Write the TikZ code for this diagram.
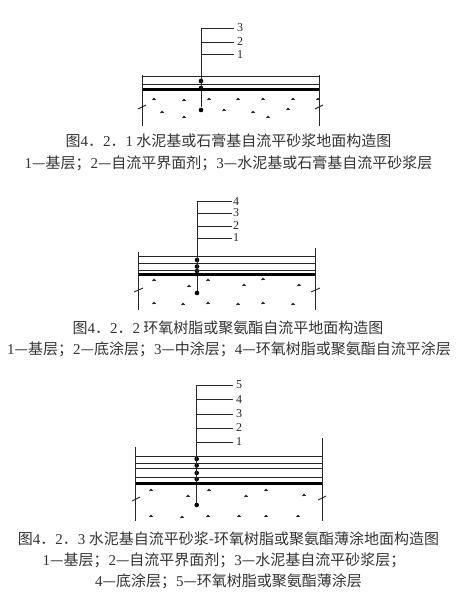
\documentclass[tikz,border=0pt]{standalone}
\usepackage{fontspec}
\setmainfont{Liberation Serif}
\newfontfamily\cjk{Noto Sans CJK SC}
\newcommand{\nm}[1]{{\rmfamily #1}}
\tikzset{
  layerline/.style={line width=1pt,black!85},
  thicklayer/.style={line width=3pt,black},
  sideline/.style={line width=0.9pt,black!85},
  leaderline/.style={line width=0.9pt,black!85},
  numlabel/.style={anchor=west,inner sep=0pt,font=\rmfamily\fontsize{12}{13}\selectfont,text=black!85},
  captext/.style={inner sep=0pt,font=\cjk\fontsize{15}{17}\selectfont,text=black!80},
  dotmark/.style={circle,fill=black,inner sep=0pt,minimum size=4.6pt},
  grain/.style={fill=black!85,draw=none}
}
\newcommand{\grains}[1]{\foreach \gx/\gy in {#1}{\fill[grain] (\gx-2.2,\gy+1.1) -- (\gx+2.2,\gy+0.8) -- (\gx,\gy-1.4) -- cycle;}}
\begin{document}
\begin{tikzpicture}[x=1pt,y=-1pt]
\useasboundingbox (0,0) rectangle (460,596);
\fill[white] (0,0) rectangle (460,596);

% --- diagram 1
\coordinate (a0) at (201,28);
\node[dotmark] (ad1) at (201,81) {};
\node[dotmark] (ad2) at (201,88) {};
\node[dotmark] (ad3) at (201,110) {};
\draw[leaderline] (a0) -- (ad3);
\foreach \n/\y in {3/28,2/42,1/54.5}{
  \node[numlabel] (a\n) at (237,\y) {\n};
  \draw[leaderline,shorten >=3pt] (201,\y) -- (a\n.west);
}
\draw[layerline] (142,76.7) -- (319,76.7);
\draw[layerline] (142,85) -- (319,85);
\draw[thicklayer] (142,90) -- (319,90);
\draw[sideline] (142,75) -- (142,126);
\draw[sideline] (319,75) -- (319,126);
\draw[sideline] (138,109) -- (146,105);
\draw[sideline] (315,109) -- (323,105);
\grains{154/99,184/100,209/99,238/99,263/99,293/99,318/99,162/112,224/110,253/112,288/109,184/117,268/117}

% --- diagram 2
\coordinate (b0) at (197,201.7);
\node[dotmark] (bd1) at (197,260) {};
\node[dotmark] (bd2) at (197,266.5) {};
\node[dotmark] (bd3) at (197,271) {};
\node[dotmark] (bd4) at (197,293) {};
\draw[leaderline] (b0) -- (bd4);
\foreach \n/\y in {4/201.7,3/213,2/226,1/238}{
  \node[numlabel] (b\n) at (233,\y) {\n};
  \draw[leaderline,shorten >=1pt] (197,\y) -- (b\n.west);
}
\draw[layerline] (138,256.7) -- (315,256.7);
\draw[layerline] (138,263) -- (315,263);
\draw[layerline] (138,270) -- (315,270);
\draw[thicklayer] (138,274) -- (315,274);
\draw[sideline] (138,252) -- (138,310);
\draw[sideline] (315,248) -- (315,310);
\draw[sideline] (134,292) -- (143,288);
\draw[sideline] (311,292) -- (320,288);
\grains{154/280,189/286,208/280,244/285,263/279,299/285,154/303,183/304,208/303,238/304,263/303,293/304}

% --- diagram 3
\coordinate (c0) at (196.7,385);
\node[dotmark] (cd1) at (196.7,459) {};
\node[dotmark] (cd2) at (196.7,465.5) {};
\node[dotmark] (cd3) at (196.7,473) {};
\node[dotmark] (cd4) at (196.7,479) {};
\node[dotmark] (cd5) at (196.7,505) {};
\draw[leaderline] (c0) -- (cd5);
\foreach \n/\y in {5/385,4/399.5,3/414,2/428,1/442}{
  \node[numlabel] (c\n) at (236,\y) {\n};
  \draw[leaderline,shorten >=3pt] (196.7,\y) -- (c\n.west);
}
\draw[layerline] (135.5,456.7) -- (322,456.7);
\draw[layerline] (135.5,463) -- (322,463);
\draw[layerline] (135.5,468) -- (322,468);
\draw[layerline] (135.5,477) -- (322,477);
\draw[thicklayer] (135.5,483) -- (322,483);
\draw[sideline] (135.5,446.7) -- (135.5,521);
\draw[sideline] (322,438) -- (322,521);
\draw[sideline] (132,501) -- (140,497);
\draw[sideline] (318,500) -- (326,496);
\grains{151/490,188/496,209/490,246/496,266/490,304/495,151/516,182/517,208/516,239/516,266/516,298/516}

% --- captions
\node[captext] (t1) at (228.5,141) {图\nm{4}．\nm{2}．\nm{1} 水泥基或石膏基自流平砂浆地面构造图};
\node[captext] (t2) at (228.5,163) {\nm{1}—基层；\nm{2}—自流平界面剂；\nm{3}—水泥基或石膏基自流平砂浆层};
\node[captext] (t3) at (228,327.5) {图\nm{4}．\nm{2}．\nm{2} 环氧树脂或聚氨酯自流平地面构造图};
\node[captext] (t4) at (229,349) {\nm{1}—基层；\nm{2}—底涂层；\nm{3}—中涂层；\nm{4}—环氧树脂或聚氨酯自流平涂层};
\node[captext] (t5) at (228.5,539) {图\nm{4}．\nm{2}．\nm{3} 水泥基自流平砂浆-环氧树脂或聚氨酯薄涂地面构造图};
\node[captext] (t6) at (224,560) {\nm{1}—基层；\nm{2}—自流平界面剂；\nm{3}—水泥基自流平砂浆层；};
\node[captext] (t7) at (228.5,581.5) {\nm{4}—底涂层；\nm{5}—环氧树脂或聚氨酯薄涂层};
\end{tikzpicture}
\end{document}
